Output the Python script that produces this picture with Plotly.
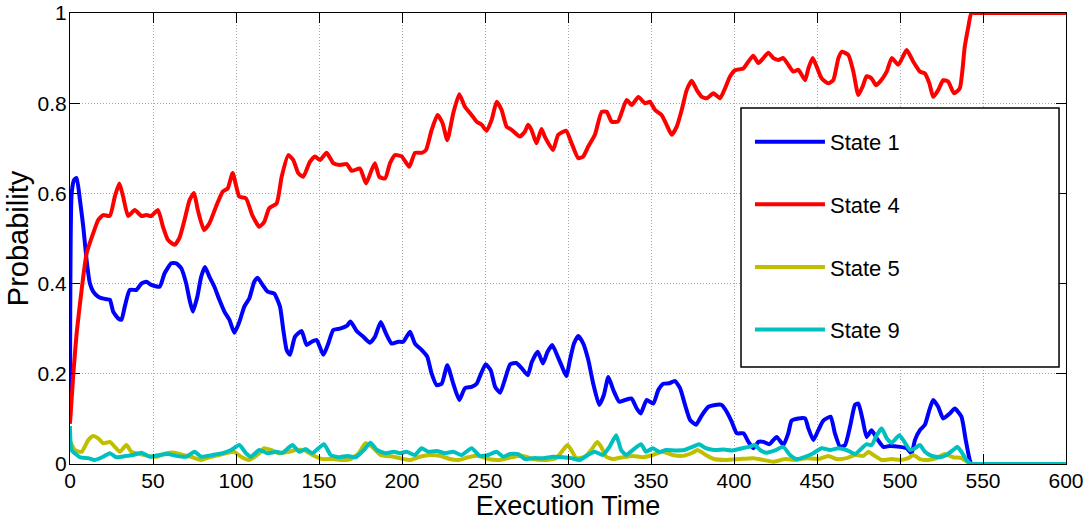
import plotly.graph_objects as go

# ---------------- data ----------------
state1_t = [0, 1, 2.5, 4, 6, 8, 10, 12, 14, 17, 21, 24, 26, 29, 31, 33, 36, 40, 43, 46, 49, 54, 57, 61, 64, 67, 70, 72, 74, 76.7, 79, 81.3, 84, 87, 90, 93, 96, 99, 102, 105, 108, 111, 113, 116, 119, 123, 126.5, 128.5, 130.5, 132.5, 135.5, 139.5, 142.5, 145.6, 148.6, 152.6, 155.6, 158.6, 162.6, 166.7, 169, 172.7, 176.7, 180.7, 183.7, 187.2, 190.4, 193.8, 197.8, 200.8, 204.8, 207.8, 211.8, 215.2, 217.8, 220.9, 223.9, 227.3, 230.9, 234.5, 237.9, 241.9, 245, 247, 250.4, 253.4, 256.1, 259.1, 262.2, 265.2, 268.8, 272.2, 275.8, 278.2, 281.8, 284.9, 287.7, 290.5, 293.8, 296.4, 299, 301.2, 303.6, 306.2, 309.2, 312.2, 315.2, 318.8, 321.6, 324.3, 327.3, 330.9, 334.3, 338.3, 341.4, 343.8, 347.4, 351.4, 354.4, 357.4, 361, 364.4, 367.5, 370.5, 373.5, 377.1, 380.6, 384.6, 388.6, 392.6, 395.6, 398.6, 401.7, 405.7, 408.7, 411.7, 414.7, 417.7, 421.3, 425.7, 429.7, 432.7, 434.7, 438.8, 442.8, 444.8, 447.8, 450.8, 453.8, 458.2, 460.8, 463.9, 466.9, 469.9, 472.9, 474.9, 477.5, 479.9, 482.9, 486, 490, 494, 500, 504, 507, 509, 512, 515, 517.7, 520, 523, 526, 530, 533, 537, 539.6, 542, 543, 546, 600]
state1_p = [0.09, 0.6, 0.63, 0.634, 0.585, 0.526, 0.452, 0.4, 0.382, 0.371, 0.366, 0.364, 0.338, 0.323, 0.32, 0.349, 0.386, 0.386, 0.4, 0.404, 0.397, 0.393, 0.423, 0.445, 0.445, 0.434, 0.4, 0.364, 0.338, 0.371, 0.415, 0.437, 0.415, 0.393, 0.364, 0.338, 0.32, 0.291, 0.315, 0.349, 0.367, 0.404, 0.413, 0.397, 0.382, 0.378, 0.349, 0.297, 0.253, 0.242, 0.282, 0.295, 0.264, 0.271, 0.275, 0.242, 0.267, 0.297, 0.3, 0.306, 0.316, 0.295, 0.282, 0.269, 0.282, 0.315, 0.289, 0.267, 0.271, 0.271, 0.293, 0.267, 0.253, 0.238, 0.201, 0.175, 0.178, 0.219, 0.178, 0.142, 0.168, 0.171, 0.178, 0.195, 0.221, 0.208, 0.171, 0.158, 0.19, 0.221, 0.224, 0.212, 0.197, 0.226, 0.249, 0.223, 0.249, 0.264, 0.238, 0.216, 0.195, 0.231, 0.267, 0.284, 0.267, 0.231, 0.178, 0.131, 0.153, 0.193, 0.164, 0.138, 0.142, 0.145, 0.123, 0.112, 0.142, 0.134, 0.164, 0.178, 0.179, 0.184, 0.168, 0.131, 0.098, 0.087, 0.108, 0.127, 0.131, 0.131, 0.116, 0.094, 0.068, 0.068, 0.049, 0.035, 0.049, 0.049, 0.044, 0.06, 0.042, 0.068, 0.096, 0.101, 0.101, 0.079, 0.053, 0.075, 0.096, 0.105, 0.068, 0.038, 0.042, 0.083, 0.131, 0.134, 0.098, 0.06, 0.075, 0.057, 0.038, 0.04, 0.038, 0.035, 0.024, 0.053, 0.075, 0.087, 0.12, 0.142, 0.127, 0.101, 0.112, 0.123, 0.105, 0.053, 0.009, 0, 0, 0]

state4_t = [0, 2, 4, 7, 10, 14, 17, 20, 24, 27, 29.7, 32, 35, 39, 43, 46, 49, 53, 56, 59, 63, 66, 69, 72, 74.7, 77, 80.7, 84, 88, 92, 95, 98, 102, 106, 110, 114, 117, 120, 124.5, 127.5, 131.5, 134.5, 137.5, 140.5, 144.5, 147.6, 150.6, 154.6, 158.6, 162.6, 166.7, 169.7, 174.7, 178.3, 181.7, 183.7, 186.3, 189.8, 192.8, 195.8, 199.8, 204.4, 207.8, 211.8, 214.4, 217.8, 221.4, 224.4, 227.3, 230.9, 234.5, 237.9, 241.9, 245, 248, 251, 254, 257, 260, 263, 266, 271, 274, 276, 278, 281, 284, 286, 291, 294.1, 298.8, 302.2, 306.2, 309.2, 312.2, 316.2, 320.3, 323.3, 326.3, 330, 335.3, 338.4, 342.4, 346.3, 349.4, 352.4, 356.4, 359.4, 362.5, 365.5, 368.5, 371.5, 374.5, 377.6, 380.6, 383.6, 387.6, 391.6, 394.6, 397.6, 400.6, 405.6, 408.6, 411.6, 414.7, 417.7, 420.7, 423.7, 426.7, 429.7, 432.7, 435.7, 438.8, 442.8, 444.8, 447.4, 449.8, 452.8, 456.8, 459.8, 462.9, 464.9, 468.9, 471.9, 474.9, 477.5, 479.9, 482.9, 485.5, 488, 492, 495, 499, 504, 508, 512, 515, 517.7, 520, 523, 526, 529, 532.5, 536, 539, 541.2, 543, 546, 600]
state4_p = [0.09, 0.2, 0.29, 0.386, 0.467, 0.512, 0.541, 0.552, 0.55, 0.593, 0.622, 0.593, 0.55, 0.563, 0.55, 0.552, 0.55, 0.563, 0.526, 0.497, 0.486, 0.502, 0.541, 0.585, 0.601, 0.563, 0.519, 0.534, 0.571, 0.604, 0.611, 0.645, 0.593, 0.589, 0.55, 0.526, 0.537, 0.567, 0.578, 0.637, 0.685, 0.674, 0.645, 0.637, 0.67, 0.682, 0.674, 0.69, 0.667, 0.663, 0.665, 0.65, 0.655, 0.622, 0.652, 0.667, 0.637, 0.633, 0.667, 0.685, 0.682, 0.659, 0.69, 0.69, 0.696, 0.74, 0.774, 0.756, 0.718, 0.778, 0.82, 0.792, 0.774, 0.759, 0.752, 0.739, 0.763, 0.803, 0.785, 0.748, 0.741, 0.726, 0.737, 0.752, 0.741, 0.711, 0.743, 0.726, 0.696, 0.73, 0.739, 0.711, 0.678, 0.682, 0.704, 0.73, 0.781, 0.781, 0.759, 0.759, 0.807, 0.796, 0.814, 0.8, 0.803, 0.785, 0.774, 0.752, 0.73, 0.748, 0.785, 0.829, 0.85, 0.829, 0.814, 0.811, 0.822, 0.811, 0.833, 0.859, 0.873, 0.877, 0.892, 0.905, 0.889, 0.9, 0.912, 0.9, 0.896, 0.9, 0.885, 0.87, 0.874, 0.851, 0.877, 0.9, 0.881, 0.855, 0.844, 0.851, 0.9, 0.914, 0.907, 0.87, 0.818, 0.837, 0.86, 0.855, 0.84, 0.848, 0.87, 0.9, 0.885, 0.918, 0.892, 0.87, 0.866, 0.844, 0.814, 0.829, 0.851, 0.848, 0.822, 0.833, 0.925, 0.97, 1.0, 1.0, 1.0]

state5_t = [0, 3, 7, 11, 14, 17, 20, 24, 27, 30, 34, 37, 42, 47, 52, 58, 63, 68, 73, 79, 84, 90, 95, 99, 103, 108, 114, 117, 121, 126, 132, 136, 141, 146, 152, 158, 165, 169, 174, 178, 182, 187, 195, 201, 204.8, 210.8, 216.9, 222.9, 228.9, 234, 240, 246, 252, 259, 266, 273, 279, 287, 293, 297, 299.7, 302, 305, 310, 314, 317.6, 320, 323, 327, 333, 339, 345, 351, 357, 363, 369, 375, 378, 383, 388, 395, 403, 411.6, 417.7, 423.7, 430.7, 436.7, 443.8, 450.8, 456.8, 461.9, 467.9, 472.9, 477.9, 481, 484, 489, 495, 500, 505, 508, 512, 517, 522, 527, 532, 537, 542, 544, 547, 600]
state5_p = [0.05, 0.031, 0.027, 0.053, 0.062, 0.057, 0.046, 0.049, 0.038, 0.027, 0.042, 0.027, 0.022, 0.018, 0.016, 0.024, 0.025, 0.02, 0.016, 0.009, 0.015, 0.02, 0.025, 0.027, 0.016, 0.009, 0.024, 0.035, 0.031, 0.024, 0.027, 0.031, 0.031, 0.02, 0.011, 0.011, 0.009, 0.011, 0.024, 0.046, 0.038, 0.02, 0.016, 0.011, 0.009, 0.016, 0.02, 0.018, 0.011, 0.009, 0.015, 0.018, 0.011, 0.009, 0.015, 0.018, 0.011, 0.009, 0.013, 0.031, 0.042, 0.031, 0.013, 0.016, 0.031, 0.049, 0.038, 0.016, 0.011, 0.015, 0.018, 0.015, 0.02, 0.027, 0.02, 0.018, 0.025, 0.031, 0.02, 0.011, 0.009, 0.011, 0.013, 0.009, 0.005, 0.011, 0.009, 0.013, 0.011, 0.018, 0.011, 0.013, 0.02, 0.018, 0.027, 0.02, 0.009, 0.011, 0.009, 0.013, 0.02, 0.011, 0.009, 0.013, 0.022, 0.015, 0.013, 0.001, 0, 0, 0]

state9_t = [0, 1, 6, 11, 15, 20, 24, 28, 34, 38, 43, 48, 54, 59, 64, 70, 75, 79, 86, 92, 97, 102, 106, 109, 114, 119, 124, 128, 134, 138, 142, 146, 153, 157, 162, 167, 172, 177, 181, 185, 190, 195, 198.8, 202.8, 207.8, 211.8, 215.8, 220.8, 225.8, 230.9, 235.9, 241.9, 246.9, 251.9, 256.9, 261, 265, 270, 274, 279, 285, 291, 297, 302, 307, 312, 316, 321, 325, 329, 332, 335, 339, 344, 347, 351, 355, 359, 365, 370, 375, 379, 383, 388, 394, 399, 405, 409, 412.7, 415.7, 419.7, 424.7, 429.7, 433.7, 437.7, 442.8, 447.8, 452.8, 457.8, 462.9, 467.9, 472.9, 475.9, 479.9, 482.9, 486, 489, 492, 495, 499.6, 503, 506, 509, 512, 515, 519, 524, 528, 532, 534.5, 537, 540, 543, 546, 600]
state9_p = [0.084, 0.031, 0.015, 0.013, 0.009, 0.016, 0.024, 0.015, 0.018, 0.02, 0.025, 0.016, 0.02, 0.022, 0.018, 0.016, 0.027, 0.016, 0.02, 0.024, 0.031, 0.042, 0.024, 0.016, 0.031, 0.024, 0.027, 0.025, 0.042, 0.027, 0.033, 0.024, 0.044, 0.02, 0.015, 0.018, 0.015, 0.031, 0.047, 0.031, 0.024, 0.027, 0.024, 0.027, 0.02, 0.035, 0.027, 0.029, 0.024, 0.027, 0.02, 0.035, 0.018, 0.02, 0.027, 0.016, 0.022, 0.022, 0.011, 0.013, 0.013, 0.016, 0.015, 0.013, 0.009, 0.02, 0.027, 0.02, 0.038, 0.064, 0.031, 0.02, 0.031, 0.044, 0.027, 0.035, 0.027, 0.031, 0.03, 0.031, 0.038, 0.044, 0.035, 0.031, 0.032, 0.03, 0.035, 0.038, 0.042, 0.031, 0.025, 0.03, 0.038, 0.02, 0.011, 0.016, 0.024, 0.035, 0.031, 0.035, 0.031, 0.022, 0.031, 0.044, 0.042, 0.064, 0.079, 0.057, 0.047, 0.064, 0.047, 0.031, 0.035, 0.042, 0.027, 0.018, 0.015, 0.02, 0.031, 0.038, 0.027, 0.009, 0, 0, 0]

series_names = ["State 1", "State 4", "State 5", "State 9"]
series_colors = ["#0000FF", "#FF0000", "#BFBF00", "#00BFBF"]

x_ticks = list(range(0, 601, 50))
y_ticks = [0, 0.2, 0.4, 0.6, 0.8, 1]
y_tick_text = ["0", "0.2", "0.4", "0.6", "0.8", "1"]

FONT = "Liberation Sans, Arial, Helvetica, sans-serif"

fig = go.Figure()
for name, color, t, p in zip(series_names, series_colors,
                             [state1_t, state4_t, state5_t, state9_t],
                             [state1_p, state4_p, state5_p, state9_p]):
    fig.add_trace(go.Scatter(
        x=t, y=p, mode="lines", name=name, legendgroup=name,
        line=dict(color=color, width=4, shape="spline", smoothing=0.5),
    ))

# legend frame (MATLAB-style box)
fig.add_shape(type="rect", xref="paper", yref="paper",
              x0=0.6737, x1=0.993, y0=0.2151, y1=0.7894,
              line=dict(color="black", width=1.5), fillcolor="white", layer="above")

axis_common = dict(
    showline=True, linecolor="black", linewidth=1, mirror="ticks",
    ticks="inside", ticklen=10, tickcolor="black", tickwidth=1,
    showgrid=True, gridcolor="#a8a8a8", griddash="1px,2px", gridwidth=1,
    zeroline=False, tickfont=dict(family=FONT, size=21, color="black"),
)

fig.update_layout(
    width=1087, height=521,
    margin=dict(l=70, r=21, t=13, b=57, pad=0),
    paper_bgcolor="white", plot_bgcolor="white",
    font=dict(family=FONT, color="black"),
    xaxis=dict(range=[0, 600], tickvals=x_ticks, automargin=False,
               ticklabelstandoff=-2,
               title=dict(text="Execution Time", font=dict(family=FONT, size=27), standoff=4),
               **axis_common),
    yaxis=dict(range=[0, 1], tickvals=y_ticks, ticktext=y_tick_text, automargin=False,
               ticklabelstandoff=-2,
               title=dict(text="Probability", font=dict(family=FONT, size=29), standoff=0),
               **axis_common),
    legend=dict(x=0.6827, y=0.7607, xanchor="left", yanchor="top",
                bgcolor="rgba(0,0,0,0)", borderwidth=0,
                font=dict(family=FONT, size=22, color="black"),
                itemwidth=70, tracegroupgap=31, traceorder="grouped"),
    showlegend=True,
)

fig.write_html("out.html")
